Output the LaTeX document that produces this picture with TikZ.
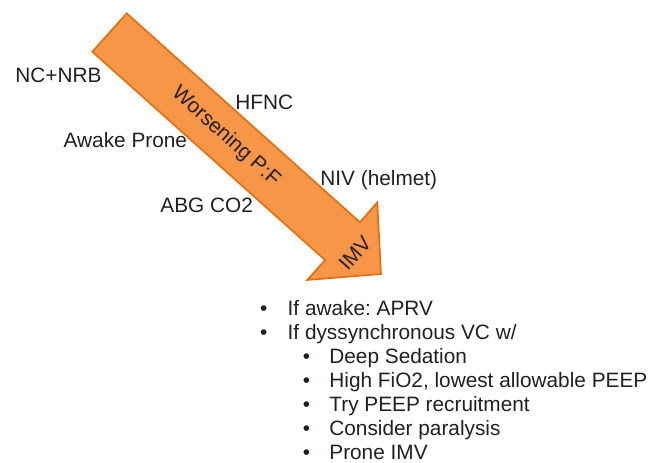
\documentclass[tikz,border=0pt]{standalone}
\usepackage{fontspec}
\setmainfont{Liberation Sans}
\frenchspacing
\definecolor{arrowfill}{HTML}{F79646}
\definecolor{arrowedge}{HTML}{E46C0A}
\definecolor{ink}{HTML}{231F20}
\begin{document}
\begin{tikzpicture}[x=0.5pt,y=-0.5pt,
    lbl/.style={inner sep=0pt,anchor=base west,text=ink,font=\fontsize{10.4}{12.5}\selectfont}]
    \useasboundingbox (0,0) rectangle (654,462);
    % big arrow
    \draw[fill=arrowfill,draw=arrowedge,line width=0.8pt,line join=miter]
        (126.7,13.3) -- (360,222.3) -- (377.3,202.3) -- (381,274) -- (307.3,280) -- (325,260) -- (92.3,51.7) -- cycle;
    \node[lbl,anchor=center,rotate=-41.9] (worse) at (225.8,136.7) {Worsening P:F};
    \node[lbl,anchor=center,rotate=48.1] (imv) at (355,253.3) {IMV};
    % steps
    \node[lbl] (nc) at (15,82.5) {NC+NRB};
    \node[lbl] (hfnc) at (235,109) {HFNC};
    \node[lbl] (awake) at (63.3,147.5) {Awake Prone};
    \node[lbl] (niv) at (320,185.5) {NIV (helmet)};
    \node[lbl] (abg) at (160,212.5) {ABG CO2};
    % list
    \node[lbl] (aprv) at (259.7,315) {\makebox[13.8pt][l]{\textbullet}If awake: APRV};
    \node[lbl] (dys) at (259.7,339) {\makebox[13.8pt][l]{\textbullet}If dyssynchronous VC w/};
    \node[lbl] (sed) at (302.4,363) {\makebox[13.3pt][l]{\textbullet}Deep Sedation};
    \node[lbl] (fio) at (302.4,387) {\makebox[13.3pt][l]{\textbullet}High FiO2, lowest allowable PEEP};
    \node[lbl] (peep) at (302.4,411) {\makebox[13.3pt][l]{\textbullet}Try PEEP recruitment};
    \node[lbl] (para) at (302.4,435.5) {\makebox[13.3pt][l]{\textbullet}Consider paralysis};
    \node[lbl] (prone) at (302.4,459.5) {\makebox[13.3pt][l]{\textbullet}Prone IMV};
\end{tikzpicture}
\end{document}
